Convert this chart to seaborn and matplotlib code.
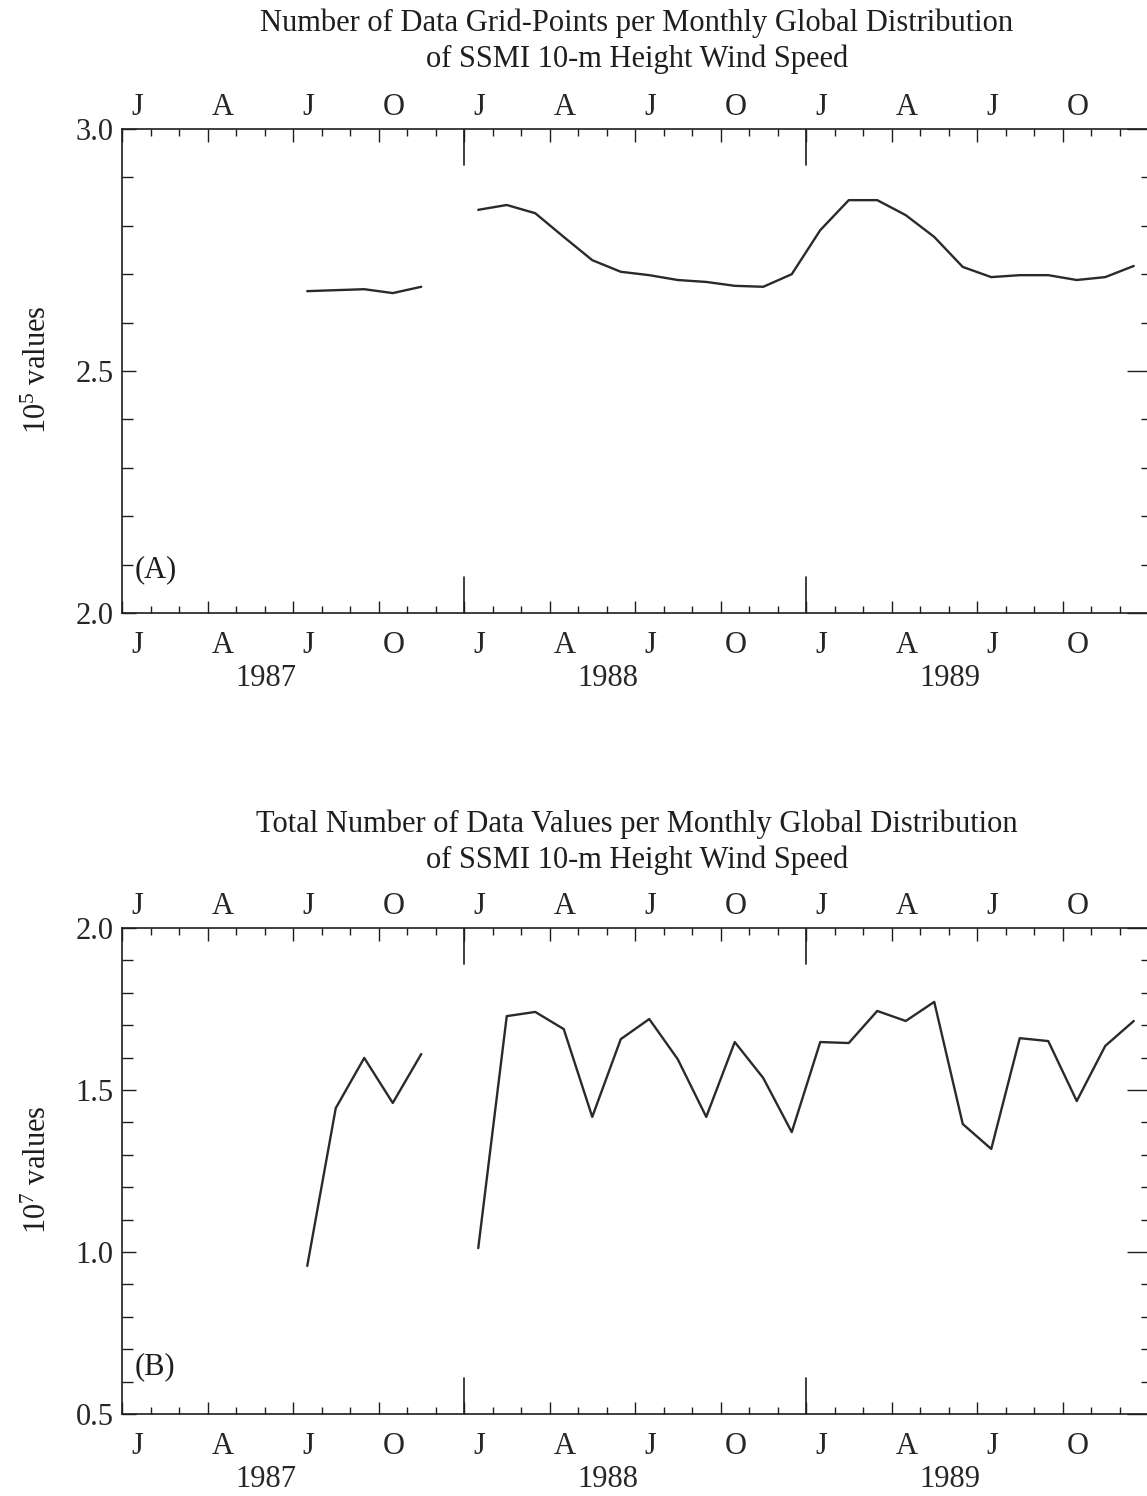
"""SSMI 10-m wind speed: monthly data counts, 1987-1989."""

import matplotlib
matplotlib.use("Agg")
import matplotlib.pyplot as plt
import numpy as np
import pandas as pd
import seaborn as sns
from matplotlib.ticker import MultipleLocator

# Month index 0 = Jan 1987; data plotted at mid-month
YEARS = [1987, 1988, 1989]
MONTH_LETTERS = ["J", "A", "J", "O"]

# Jul-Nov 1987, then Jan 1988 - Dec 1989 (Dec 1987 missing)
seg1_start = 6
seg2_start = 12

grid_1987 = [2.665, 2.667, 2.669, 2.661, 2.674]
grid_1988_89 = [2.833, 2.843, 2.826, 2.777, 2.729, 2.705, 2.698, 2.688,
                2.684, 2.676, 2.674, 2.700, 2.791, 2.853, 2.853, 2.822,
                2.777, 2.715, 2.694, 2.698, 2.698, 2.688, 2.694, 2.717]

total_1987 = [0.957, 1.444, 1.599, 1.460, 1.611]
total_1988_89 = [1.012, 1.728, 1.741, 1.688, 1.417, 1.657, 1.719, 1.595,
                 1.417, 1.648, 1.537, 1.370, 1.648, 1.645, 1.744, 1.713,
                 1.772, 1.395, 1.318, 1.660, 1.651, 1.466, 1.636, 1.713]

TITLE_A = ("Number of Data Grid-Points per Monthly Global Distribution\n"
           "of SSMI 10-m Height Wind Speed")
TITLE_B = ("Total Number of Data Values per Monthly Global Distribution\n"
           "of SSMI 10-m Height Wind Speed")

sns.set_theme(style="ticks")
plt.rcParams["font.family"] = ["Liberation Serif", "DejaVu Serif"]
plt.rcParams["mathtext.fontset"] = "custom"
plt.rcParams["mathtext.rm"] = "Liberation Serif"
plt.rcParams["mathtext.it"] = "Liberation Serif:italic"

FS = 22
INK = "#1e1e1e"
W, H = 1147, 1496


def build_frame(first, second):
    x1 = np.arange(seg1_start, seg1_start + len(first)) + 0.5
    x2 = np.arange(seg2_start, seg2_start + len(second)) + 0.5
    return pd.DataFrame({
        "month": np.concatenate([x1, x2]),
        "value": list(first) + list(second),
        "segment": ["a"] * len(first) + ["b"] * len(second),
    })


def style_axes(ax, ylim, tag, tag_y):
    n_months = 12 * len(YEARS)
    ax.set_xlim(0, n_months)
    ax.set_ylim(*ylim)
    for s in ax.spines.values():
        s.set_visible(True)
        s.set_color(INK)
        s.set_linewidth(1.2)

    # x ticks: quarters (major) and months (minor), inward, top and bottom
    ax.set_xticks(np.arange(0, n_months + 1, 3))
    ax.xaxis.set_minor_locator(MultipleLocator(1))
    ax.tick_params(axis="x", which="major", direction="in", length=9, width=1,
                   top=True, bottom=True, labelbottom=False, labeltop=False, color=INK)
    ax.tick_params(axis="x", which="minor", direction="in", length=5, width=1,
                   top=True, bottom=True, color=INK)

    # long ticks at year boundaries
    frac = 36 / 484
    for k in range(1, len(YEARS)):
        ax.axvline(12 * k, ymin=0, ymax=frac, color=INK, lw=1.2)
        ax.axvline(12 * k, ymin=1 - frac, ymax=1, color=INK, lw=1.2)

    # y ticks
    ax.yaxis.set_major_locator(MultipleLocator(0.5))
    ax.yaxis.set_minor_locator(MultipleLocator(0.1))
    ax.yaxis.set_major_formatter(lambda v, p: f"{v:.1f}")
    ax.tick_params(axis="y", which="major", direction="in", length=10, width=1,
                   left=True, right=False, labelsize=FS, pad=6, color=INK)
    ax.tick_params(axis="y", which="minor", direction="in", length=8, width=1,
                   left=True, right=False, color=INK)
    sr = ax.secondary_yaxis("right")
    sr.yaxis.set_major_locator(MultipleLocator(0.5))
    sr.yaxis.set_minor_locator(MultipleLocator(0.1))
    sr.tick_params(which="major", direction="in", length=15, width=1,
                   labelright=False, color=INK)
    sr.tick_params(which="minor", direction="in", length=5, width=1, color=INK)
    for s in sr.spines.values():
        s.set_color(INK)

    # month letters half a month after each quarter start, top and bottom
    mid = np.arange(0, n_months, 3) + 0.55
    letters = MONTH_LETTERS * len(YEARS)
    for loc, pad in (("top", 5), ("bottom", 13)):
        sec = ax.secondary_xaxis(loc)
        sec.set_xticks(mid, letters)
        sec.tick_params(length=0, pad=pad, labelsize=FS)
        for s in sec.spines.values():
            s.set_visible(False)

    # year labels under the letters
    sy = ax.secondary_xaxis("bottom")
    sy.set_xticks(np.arange(len(YEARS)) * 12 + 5.05, [str(y) for y in YEARS])
    sy.tick_params(length=0, pad=37, labelsize=FS)
    for s in sy.spines.values():
        s.set_visible(False)

    ax.text(0.012, tag_y, tag, transform=ax.get_yaxis_transform(),
            fontsize=FS, va="center", ha="left", color=INK)
    ax.set_xlabel("")
    ax.set_ylabel("")


fig = plt.figure(figsize=(W / 100, H / 100), dpi=100)
fig.patch.set_facecolor("white")

left = 122 / W
width = (1148 - 122) / W
ax_a = fig.add_axes([left, 1 - 613 / H, width, 484 / H])
ax_b = fig.add_axes([left, 1 - 1414 / H, width, 486 / H])

df_a = build_frame(grid_1987, grid_1988_89)
df_b = build_frame(total_1987, total_1988_89)

sns.lineplot(data=df_a, x="month", y="value", units="segment", estimator=None,
             color="#2a2a2a", lw=1.7, ax=ax_a)
sns.lineplot(data=df_b, x="month", y="value", units="segment", estimator=None,
             color="#2a2a2a", lw=1.7, ax=ax_b)

style_axes(ax_a, (2.0, 3.0), "(A)", 2.09)
style_axes(ax_b, (0.5, 2.0), "(B)", 0.645)

fig.text(637 / W, 1 - 41.5 / H, TITLE_A, ha="center", va="center",
         fontsize=FS, linespacing=1.3, color=INK)
fig.text(637 / W, 1 - 842 / H, TITLE_B, ha="center", va="center",
         fontsize=FS, linespacing=1.3, color=INK)

fig.text(38 / W, 1 - 370 / H, "10$^{5}$ values", rotation=90,
         ha="center", va="center", fontsize=FS, color=INK)
fig.text(38 / W, 1 - 1170 / H, "10$^{7}$ values", rotation=90,
         ha="center", va="center", fontsize=FS, color=INK)

fig.savefig("out.png", dpi=100, facecolor="white")
plt.close(fig)
